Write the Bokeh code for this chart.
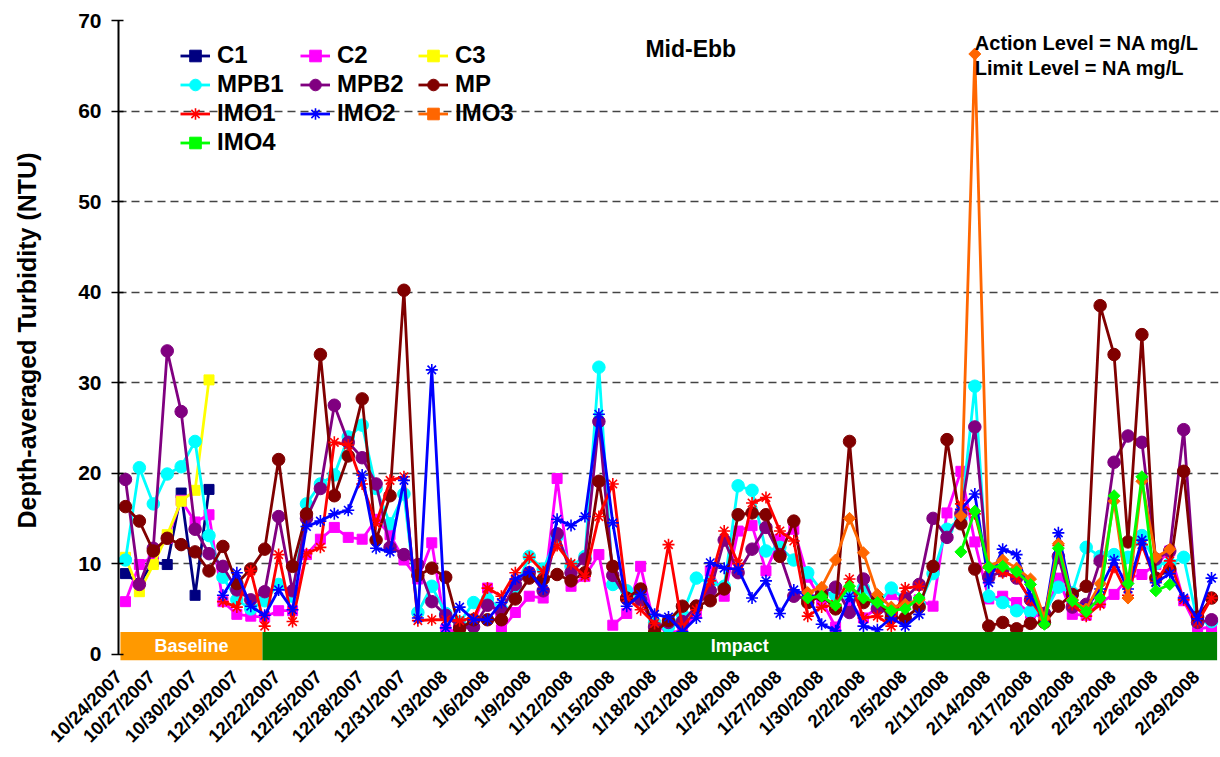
import math
import numpy as np
import pandas as pd
from bokeh.plotting import figure
from bokeh.models import Range1d, FixedTicker, Legend, LegendItem, Label, ColumnDataSource
from bokeh.embed import file_html
from bokeh.resources import INLINE

N = None
FONT = "Liberation Sans"

# ---- categories (sampling dates) ----
date_segments = [("2007-10-24", "2007-10-30"), ("2007-12-17", "2008-02-05"), ("2008-02-09", "2008-02-29")]
dates = [f"{d.month}/{d.day}/{d.year}" for s, e in date_segments for d in pd.date_range(s, e)]

# ---- series values (NTU) ----
C1 = [8.9, 7.8, 10.2, 9.9, 17.8, 6.5, 18.2] + [N] * 72
C3 = [10.7, 6.9, 9.9, 13.2, 16.9, 18.1, 30.3] + [N] * 72
C2 = [5.8, 9.9, 10.8, 12.8, 17.0, 14.6, 15.4, 5.8, 4.4, 4.2,
      4.1, 4.8, 4.8, 11.0, 12.7, 14.0, 12.9, 12.7, 14.9, 13.2,
      10.4, 8.3, 12.3, 2.7, 2.5, 3.5, 7.3, 2.7, 4.6, 6.4,
      6.2, 19.4, 7.5, 8.6, 11.0, 3.2, 4.5, 9.7, 3.1, 2.5,
      2.5, 4.5, 9.2, 6.4, 13.6, 14.2, 9.2, 12.7, 13.8, 8.5,
      5.9, 3.0, 5.7, 4.0, 5.1, 6.6, 5.5, 6.0, 5.3, 15.6,
      20.2, 12.4, 6.1, 6.4, 5.7, 4.5, 4.0, 8.4, 4.4, 4.3,
      5.7, 6.6, 8.4, 8.8, 9.9, 11.4, 5.9, 2.8, 3.0]
MPB1 = [10.4, 20.6, 16.6, 19.9, 20.7, 23.5, 13.1, 8.5, 6.0, 5.0,
        5.9, 7.7, 6.4, 16.6, 18.8, 19.8, 24.0, 25.3, 18.3, 14.4,
        17.7, 4.6, 7.5, 4.5, 3.5, 5.7, 6.1, 5.0, 7.2, 10.8,
        9.4, 13.0, 9.7, 10.8, 31.7, 7.7, 7.0, 6.1, 3.5, 3.0,
        4.4, 8.4, 7.9, 7.5, 18.6, 18.1, 11.4, 11.8, 10.4, 9.0,
        7.0, 6.5, 6.5, 7.3, 5.5, 7.3, 6.0, 5.5, 8.9, 13.8,
        15.0, 29.6, 6.4, 5.7, 4.8, 4.7, 4.5, 7.4, 6.8, 11.8,
        10.8, 11.0, 10.7, 13.1, 10.0, 10.0, 10.7, 3.5, 3.6]
MPB2 = [19.3, 7.7, 11.7, 33.5, 26.8, 13.8, 11.1, 9.7, 7.1, 6.0,
        6.9, 15.2, 7.0, 15.0, 18.3, 27.5, 23.4, 21.7, 18.8, 11.8,
        11.0, 9.9, 5.8, 4.3, 3.0, 3.0, 5.4, 4.8, 7.7, 9.0,
        7.0, 13.3, 9.0, 10.5, 25.7, 8.7, 6.1, 6.0, 3.0, 3.5,
        3.6, 5.3, 7.0, 12.6, 9.0, 11.6, 14.0, 11.0, 6.4, 6.1,
        6.8, 7.4, 4.6, 8.3, 5.0, 4.5, 6.2, 7.7, 15.0, 12.9,
        15.5, 25.1, 8.5, 9.2, 8.4, 6.0, 4.5, 10.8, 5.2, 5.5,
        10.3, 21.2, 24.1, 23.4, 10.5, 11.4, 24.8, 3.5, 3.8]
MP = [16.3, 14.7, 11.4, 12.8, 12.1, 11.3, 9.2, 11.9, 7.8, 9.4,
      11.6, 21.5, 9.7, 15.5, 33.1, 17.5, 21.9, 28.2, 12.6, 17.5,
      40.2, 8.7, 9.5, 8.5, 2.8, 3.8, 3.8, 3.8, 6.1, 8.4,
      8.3, 8.8, 8.1, 9.0, 19.1, 9.7, 6.2, 7.2, 2.4, 3.7,
      5.3, 5.3, 5.9, 7.2, 15.4, 15.6, 15.4, 10.8, 14.7, 5.7,
      6.5, 5.0, 23.5, 5.7, 6.0, 4.0, 4.0, 5.2, 9.7, 23.7,
      14.4, 9.4, 3.1, 3.5, 2.8, 3.4, 3.5, 5.3, 6.6, 7.5,
      38.5, 33.1, 12.4, 35.3, 8.4, 9.4, 20.2, 4.1, 6.2]
IMO1 = [N] * 7 + [5.8, 5.2, 9.2,
        3.1, 11.0, 3.6, 11.1, 11.8, 23.4, 23.1, 18.8, 14.4, 19.2,
        19.6, 3.7, 3.8, 3.8, 3.7, 4.0, 7.3, 6.4, 9.0, 10.7,
        9.1, 12.0, 10.0, 8.6, 15.2, 18.8, 6.2, 4.9, 3.4, 12.1,
        3.0, 4.9, 8.1, 13.6, 10.0, 16.7, 17.3, 13.6, 12.5, 4.2,
        5.2, 5.5, 8.3, 4.0, 4.2, 3.1, 7.3, 7.5, N, N,
        16.6, 15.5, 9.5, 9.0, 8.5, 6.0, 3.8, 12.0, 5.5, 4.2,
        5.5, 9.6, 6.5, 12.1, 8.0, 10.3, 6.0, 3.5, 6.2]
IMO2 = [N] * 7 + [6.5, 9.0, 5.3,
        4.3, 7.1, 4.9, 14.1, 14.7, 15.5, 15.9, 19.8, 11.7, 11.3,
        19.2, 4.0, 31.4, 2.9, 5.2, 3.8, 3.8, 5.7, 8.3, 9.1,
        7.2, 14.9, 14.2, 15.2, 26.5, 14.5, 5.3, 6.6, 4.4, 4.1,
        2.5, 4.0, 10.1, 9.5, 9.4, 6.2, 8.1, 4.5, 7.1, 6.5,
        3.3, 2.6, 6.4, 3.1, 2.7, 4.0, 3.1, 4.4, N, N,
        16.0, 17.7, 7.9, 11.6, 11.0, 6.4, 4.0, 13.4, 6.0, 5.1,
        7.2, 10.4, 7.2, 12.6, 7.9, 8.9, 6.2, 3.9, 8.4]
IMO3 = [N] * 49 + [6.8,
        7.4, 10.4, 15.0, 11.2, 6.6, 5.2, 5.5, 6.0, N, N,
        15.3, 66.3, 9.7, 10.4, 9.5, 8.3, 4.0, 12.2, 6.0, 5.0,
        7.8, 16.9, 6.2, 19.1, 10.7, 11.6] + [N] * 3
IMO4 = [N] * 49 + [6.2,
        6.4, 5.4, 7.5, 6.2, 5.7, 4.8, 5.0, 6.2, N, N,
        11.3, 15.8, 9.6, 9.7, 9.1, 7.7, 3.3, 11.7, 5.9, 4.7,
        6.2, 17.5, 7.8, 19.6, 7.0, 7.7] + [N] * 3

y_ticks = [0, 10, 20, 30, 40, 50, 60, 70]
label_every = 3

# ---- layout constants ----
BAR_BOTTOM, BAR_TOP = -0.7, 2.45
BASE_LEFT, SPLIT, IMPACT_RIGHT = -0.36, 9.84, 78.4
LABEL_DX = -1.125    # rotated date labels end a little left of their category
X_START, X_END = -0.5, len(dates) - 0.5
FIRST_LABEL_MIN = X_START + 0.01   # keep the first label inside the axis range

idx = list(range(len(dates)))

p = figure(width=1220, height=757, x_range=Range1d(X_START, X_END),
           y_range=Range1d(-0.7, 70), output_backend="svg", toolbar_location=None,
           min_border_left=118, min_border_right=2, min_border_top=20, min_border_bottom=97)
p.outline_line_color = None
p.background_fill_color = "white"
p.border_fill_color = "white"

# x axis: only the rotated date labels are visible
tick_idx = list(range(0, len(dates), label_every))
tick_pos = [max(i + LABEL_DX, FIRST_LABEL_MIN) for i in tick_idx]
p.xaxis.ticker = FixedTicker(ticks=tick_pos)
p.xaxis.major_label_overrides = {pos: dates[i] for pos, i in zip(tick_pos, tick_idx)}
p.xaxis.major_label_orientation = math.pi / 4
p.xaxis.axis_line_color = None
p.xaxis.major_tick_line_color = None
p.xaxis.minor_tick_line_color = None
p.xaxis.major_tick_out = 0
p.xaxis.major_tick_in = 0
p.xaxis.major_label_standoff = 13
p.xaxis.major_label_text_font = FONT
p.xaxis.major_label_text_font_style = "bold"
p.xaxis.major_label_text_font_size = "18.5px"
p.xaxis.major_label_text_color = "black"

p.yaxis.ticker = FixedTicker(ticks=y_ticks)
p.yaxis.bounds = (0, 70)
p.yaxis.axis_line_color = "black"
p.yaxis.axis_line_width = 2
p.yaxis.major_tick_line_color = "black"
p.yaxis.major_tick_line_width = 1.5
p.yaxis.major_tick_out = 7
p.yaxis.major_tick_in = 5
p.yaxis.minor_tick_line_color = None
p.yaxis.major_label_standoff = 10
p.yaxis.major_label_text_font = FONT
p.yaxis.major_label_text_font_style = "bold"
p.yaxis.major_label_text_font_size = "21px"
p.yaxis.major_label_text_color = "black"
p.yaxis.axis_label = "Depth-averaged Turbidity (NTU)"
p.yaxis.axis_label_text_font = FONT
p.yaxis.axis_label_text_font_style = "bold"
p.yaxis.axis_label_text_font_size = "25px"
p.yaxis.axis_label_text_color = "black"
p.yaxis.axis_label_standoff = 34

p.xgrid.visible = False
p.ygrid.ticker = FixedTicker(ticks=[t for t in y_ticks if t > 0])
p.ygrid.grid_line_color = "#444444"
p.ygrid.grid_line_dash = "8 5"
p.ygrid.grid_line_width = 1.5

specs = [
    ("C1", C1, "#000080", "square", 10, 0),
    ("C2", C2, "#FF00FF", "square", 10, 0),
    ("C3", C3, "#FFFF00", "square", 10, 0),
    ("MPB1", MPB1, "#00FFFF", "circle", 12.5, 0),
    ("MPB2", MPB2, "#800080", "circle", 12.5, 0),
    ("MP", MP, "#800000", "circle", 12.5, 0),
    ("IMO1", IMO1, "#FF0000", "asterisk", 12, 0),
    ("IMO2", IMO2, "#0000FF", "asterisk", 12, 0),
    ("IMO3", IMO3, "#FF6600", "square", 8.5, math.pi / 4),
    ("IMO4", IMO4, "#00FF00", "square", 8.5, math.pi / 4),
]

renderers = {}
for name, vals, color, marker, size, angle in specs:
    y = np.array([np.nan if v is None else v for v in vals], dtype=float)
    src = ColumnDataSource(dict(x=idx, y=y))
    lr = p.line("x", "y", source=src, line_color=color, line_width=2.8, line_join="round")
    sr = p.scatter("x", "y", source=src, marker=marker, size=size, angle=angle,
                   fill_color=color, line_color=color,
                   line_width=1.6 if marker == "asterisk" else 1)
    renderers[name] = [lr, sr]

# phase bars (drawn over the data as in the original)
p.quad(left=[BASE_LEFT], right=[SPLIT], bottom=[BAR_BOTTOM], top=[BAR_TOP],
       fill_color="#FF9900", line_color=None)
p.quad(left=[SPLIT], right=[IMPACT_RIGHT], bottom=[BAR_BOTTOM], top=[BAR_TOP],
       fill_color="#008000", line_color=None)
bar_mid = (BAR_BOTTOM + BAR_TOP) / 2
for txt, xc in [("Baseline", (BASE_LEFT + SPLIT) / 2), ("Impact", (SPLIT + IMPACT_RIGHT) / 2)]:
    p.add_layout(Label(x=xc, y=bar_mid, text=txt, text_color="white", text_font=FONT,
                       text_font_style="bold", text_font_size="18px",
                       text_align="center", text_baseline="middle"))

# texts
p.add_layout(Label(x=40.6, y=66.9, text="Mid-Ebb", text_font=FONT, text_font_style="bold",
                   text_color="black", text_font_size="23px",
                   text_align="center", text_baseline="middle"))
for txt, yy in [("Action Level = NA mg/L", 67.5), ("Limit Level = NA mg/L", 64.7)]:
    p.add_layout(Label(x=61.0, y=yy, text=txt, text_font=FONT, text_font_style="bold",
                       text_color="black", text_font_size="20px",
                       text_align="left", text_baseline="middle"))

# legend in three columns
columns = [(["C1", "MPB1", "IMO1", "IMO4"], (62, 503.5)),
           (["C2", "MPB2", "IMO2"], (182, 532.5)),
           (["C3", "MP", "IMO3"], (300, 532.5))]
for names, loc in columns:
    leg = Legend(items=[LegendItem(label=n, renderers=renderers[n]) for n in names],
                 location=loc, orientation="vertical", padding=0, margin=0, spacing=0,
                 glyph_width=30, glyph_height=29, label_height=29, label_standoff=7,
                 label_text_font=FONT, label_text_font_style="bold", label_text_font_size="24px",
                 label_text_color="black", border_line_color=None, background_fill_alpha=0)
    p.add_layout(leg, "center")

open("out.html", "w").write(file_html(p, INLINE))
